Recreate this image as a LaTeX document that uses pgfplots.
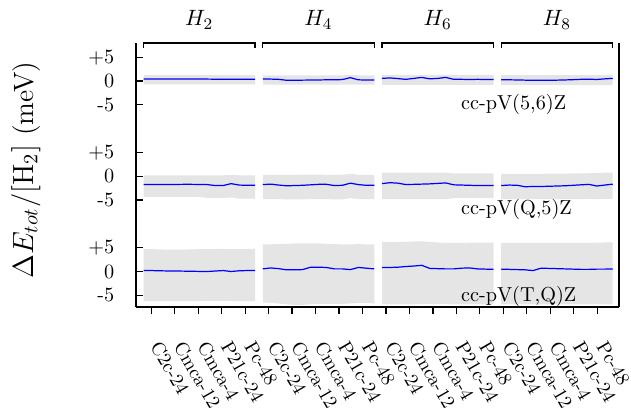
\documentclass[border=0pt]{standalone}
\usepackage{pgfplots}
\pgfplotsset{compat=1.18}
\usepackage{pgfplotstable}
\usepgfplotslibrary{fillbetween}

% one table per basis-set row; m = mean, l/h = band, columns 1..4 = H2,H4,H6,H8
\pgfplotstableread{
i  m1    l1    h1    m2    l2    h2    m3    l3    h3    m4    l4    h4
0  0.40 -0.70  1.25  0.40 -0.75  1.20  0.55 -0.80  1.30  0.28 -0.85  1.25
1  0.40 -0.70  1.25  0.40 -0.75  1.20  0.65 -0.80  1.30  0.25 -0.85  1.25
2  0.40 -0.70  1.30  0.35 -0.75  1.20  0.50 -0.80  1.30  0.22 -0.85  1.25
3  0.40 -0.70  1.30  0.15 -0.75  1.20  0.35 -0.80  1.30  0.18 -0.85  1.25
4  0.40 -0.70  1.30  0.15 -0.75  1.20  0.55 -0.80  1.30  0.15 -0.85  1.25
5  0.40 -0.70  1.30  0.18 -0.75  1.20  0.75 -0.80  1.30  0.14 -0.85  1.25
6  0.40 -0.70  1.30  0.20 -0.75  1.20  0.45 -0.80  1.30  0.15 -0.85  1.25
7  0.40 -0.70  1.30  0.22 -0.75  1.20  0.55 -0.80  1.30  0.18 -0.85  1.25
8  0.40 -0.70  1.25  0.25 -0.75  1.20  0.75 -0.80  1.30  0.22 -0.85  1.25
9  0.38 -0.70  1.25  0.25 -0.75  1.20  0.35 -0.80  1.30  0.28 -0.85  1.25
10 0.38 -0.70  1.25  0.30 -0.75  1.20  0.35 -0.80  1.30  0.35 -0.85  1.25
11 0.38 -0.70  1.25  0.70 -0.75  1.25  0.30 -0.80  1.30  0.38 -0.85  1.25
12 0.38 -0.70  1.25  0.25 -0.75  1.20  0.35 -0.80  1.30  0.32 -0.85  1.25
13 0.38 -0.70  1.25  0.20 -0.75  1.20  0.30 -0.80  1.30  0.45 -0.85  1.30
14 0.38 -0.70  1.25  0.20 -0.75  1.20  0.30 -0.80  1.30  0.55 -0.85  1.30
}\rowA

\pgfplotstableread{
i  m1    l1    h1    m2    l2    h2    m3    l3    h3    m4    l4    h4
0  -1.75 -4.35 0.20 -1.75 -4.80 0.30 -1.55 -4.80 0.75 -1.95 -4.80 0.50
1  -1.75 -4.35 0.20 -1.65 -4.80 0.30 -1.35 -4.80 0.75 -1.85 -4.80 0.50
2  -1.74 -4.35 0.20 -1.85 -4.80 0.30 -1.45 -4.80 0.75 -1.90 -4.80 0.50
3  -1.72 -4.35 0.20 -2.00 -4.85 0.30 -1.75 -4.80 0.75 -2.20 -4.80 0.50
4  -1.72 -4.35 0.20 -1.95 -4.85 0.30 -1.70 -4.80 0.75 -2.15 -4.80 0.50
5  -1.70 -4.35 0.20 -1.90 -4.85 0.35 -1.65 -4.80 0.75 -2.15 -4.80 0.50
6  -1.70 -4.35 0.20 -1.80 -4.80 0.35 -1.60 -4.80 0.75 -2.10 -4.80 0.55
7  -1.72 -4.35 0.20 -1.70 -4.80 0.35 -1.50 -4.80 0.75 -2.05 -4.80 0.55
8  -1.75 -4.55 0.20 -1.70 -4.80 0.30 -1.40 -4.80 0.75 -2.00 -4.80 0.55
9  -1.95 -4.60 0.20 -1.95 -4.85 0.30 -1.80 -4.60 0.60 -1.90 -4.80 0.60
10 -1.95 -4.60 0.20 -1.90 -4.85 0.30 -1.85 -4.60 0.60 -1.80 -4.80 0.60
11 -1.55 -4.45 0.30 -1.45 -4.60 0.50 -1.90 -4.60 0.60 -1.70 -4.75 0.65
12 -1.85 -4.70 0.20 -1.75 -4.80 0.30 -1.95 -4.60 0.60 -2.05 -4.80 0.65
13 -1.90 -4.70 0.20 -1.90 -4.80 0.30 -1.95 -4.60 0.60 -1.85 -4.75 0.75
14 -1.90 -4.70 0.20 -1.90 -4.80 0.30 -1.95 -4.60 0.60 -1.65 -4.75 0.75
}\rowB

\pgfplotstableread{
i  m1    l1    h1    m2    l2    h2    m3    l3    h3    m4    l4    h4
0  0.20 -6.20  4.70  0.55 -6.50  5.70  0.85 -6.90  6.20  0.50 -6.90  6.00
1  0.20 -6.20  4.70  0.75 -6.60  5.70  0.85 -6.90  6.20  0.45 -6.90  6.00
2  0.15 -6.20  4.65  0.60 -6.70  5.80  0.90 -6.90  6.20  0.40 -6.90  6.00
3  0.12 -6.20  4.60  0.35 -6.90  5.80  1.05 -6.90  6.25  0.35 -6.90  6.00
4  0.10 -6.20  4.60  0.35 -7.00  5.90  1.15 -6.90  6.30  0.20 -6.90  6.00
5  0.08 -6.20  4.60  0.40 -7.00  5.90  1.30 -6.85  6.35  0.70 -6.90  6.00
6  0.05 -6.20  4.65  0.90 -6.90  5.90  0.65 -6.85  6.20  0.65 -6.90  6.00
7  0.02 -6.20  4.70  0.90 -6.80  5.90  0.60 -6.85  6.10  0.60 -6.90  6.00
8  0.00 -6.15  4.70  0.85 -6.80  5.80  0.55 -6.85  6.00  0.55 -6.90  6.00
9  0.10 -6.15  4.75  0.55 -6.80  5.75  0.55 -6.90  6.00  0.50 -6.90  6.00
10 0.20 -6.15  4.75  0.55 -6.80  5.70  0.70 -6.90  6.00  0.45 -6.90  6.00
11 0.00 -6.20  4.70  0.40 -6.70  5.70  0.75 -6.90  6.05  0.45 -6.90  6.00
12 0.15 -6.20  4.70  0.85 -6.60  5.75  0.55 -6.90  6.05  0.50 -6.90  6.05
13 0.20 -6.20  4.75  0.70 -6.60  5.70  0.50 -6.90  6.05  0.50 -6.90  6.10
14 0.20 -6.20  4.75  0.55 -6.70  5.70  0.45 -6.90  6.05  0.55 -6.90  6.10
}\rowC

% #1 table, #2 group (1..4), #3 x start, #4 y offset, #5 unique id
\newcommand{\band}[5]{%
  \addplot[draw=none, name path=u#5, forget plot]
    table[x expr={#3+0.3393*\thisrow{i}}, y expr={\thisrow{h#2}+#4}] {#1};
  \addplot[draw=none, name path=d#5, forget plot]
    table[x expr={#3+0.3393*\thisrow{i}}, y expr={\thisrow{l#2}+#4}] {#1};
  \addplot[fill=gray!20, draw=none, forget plot] fill between[of=u#5 and d#5];
  \addplot[blue, line width=0.6pt, forget plot]
    table[x expr={#3+0.3393*\thisrow{i}}, y expr={\thisrow{m#2}+#4}] {#1};
}

\begin{document}
\begin{tikzpicture}
\begin{axis}[
  scale only axis,
  width=239pt, height=130.6pt,
  xmin=-0.667, xmax=19.94, ymin=-47.5, ymax=8,
  axis x line*=bottom, axis y line*=left,
  axis line style={line width=1pt},
  xtick={0,...,19},
  xticklabels={C2c-24,Cmca-12,Cmca-4,P21c-24,Pc-48,
               C2c-24,Cmca-12,Cmca-4,P21c-24,Pc-48,
               C2c-24,Cmca-12,Cmca-4,P21c-24,Pc-48,
               C2c-24,Cmca-12,Cmca-4,P21c-24,Pc-48},
  xticklabel style={yshift=-14pt, xshift=2pt, rotate=-60, anchor=west,
                    inner sep=0pt, font=\fontsize{9.5}{11}\selectfont},
  xtick align=outside,
  ytick={-45,-40,-35,-25,-20,-15,-5,0,5},
  yticklabels={-5,0,+5,-5,0,+5,-5,0,+5},
  yticklabel style={font=\fontsize{10}{12}\selectfont, xshift=-7pt},
  ytick align=inside,
  major tick length=3.5pt,
  tick style={black, line width=0.6pt},
  ylabel={$\Delta E_{tot}/[\mathrm{H}_2]$ (meV)},
  ylabel style={at={(rel axis cs:-0.227,0.52)}, anchor=center, font=\fontsize{13.8}{16}\selectfont},
  clip=false,
]
  \band{\rowA}{1}{-0.33}{0}{a1}
  \band{\rowA}{2}{4.75}{0}{a2}
  \band{\rowA}{3}{9.83}{0}{a3}
  \band{\rowA}{4}{14.91}{0}{a4}
  \band{\rowB}{1}{-0.33}{-20}{b1}
  \band{\rowB}{2}{4.75}{-20}{b2}
  \band{\rowB}{3}{9.83}{-20}{b3}
  \band{\rowB}{4}{14.91}{-20}{b4}
  \band{\rowC}{1}{-0.33}{-40}{c1}
  \band{\rowC}{2}{4.75}{-40}{c2}
  \band{\rowC}{3}{9.83}{-40}{c3}
  \band{\rowC}{4}{14.91}{-40}{c4}

  \draw[line width=1pt] (rel axis cs:1,0) -- (rel axis cs:1,1);
  \coordinate (tr) at (rel axis cs:1,1);
  \coordinate (bl) at (rel axis cs:0,0);

  \draw[line width=0.6pt] (axis cs:-0.33,7) |- (axis cs:4.42,8) -- (axis cs:4.42,7);
  \draw[line width=0.6pt] (axis cs:4.75,7) |- (axis cs:9.50,8) -- (axis cs:9.50,7);
  \draw[line width=0.6pt] (axis cs:9.83,7) |- (axis cs:14.58,8) -- (axis cs:14.58,7);
  \draw[line width=0.6pt] (axis cs:14.91,7) |- (axis cs:19.66,8) -- (axis cs:19.66,7);

  \node[anchor=base, font=\fontsize{11}{13}\selectfont] at (axis cs:2.045,8) [yshift=8.5pt] {$H_2$};
  \node[anchor=base, font=\fontsize{11}{13}\selectfont] at (axis cs:7.125,8) [yshift=8.5pt] {$H_4$};
  \node[anchor=base, font=\fontsize{11}{13}\selectfont] at (axis cs:12.205,8) [yshift=8.5pt] {$H_6$};
  \node[anchor=base, font=\fontsize{11}{13}\selectfont] at (axis cs:17.285,8) [yshift=8.5pt] {$H_8$};

  \node[anchor=west, inner sep=0pt, font=\fontsize{10}{12}\selectfont] at (axis cs:13.18,-4.83) {cc-pV(5,6)Z};
  \node[anchor=west, inner sep=0pt, font=\fontsize{10}{12}\selectfont] at (axis cs:13.18,-27.0) {cc-pV(Q,5)Z};
  \node[anchor=west, inner sep=0pt, font=\fontsize{10}{12}\selectfont] at (axis cs:13.18,-45.15) {cc-pV(T,Q)Z};
\end{axis}
% page margins as in the reference
\path (tr) ++(4.9pt,21.2pt);
\path (bl) ++(-67pt,-47.8pt);
\end{tikzpicture}
\end{document}
